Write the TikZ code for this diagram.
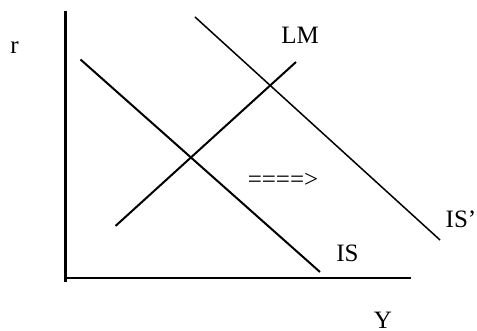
\documentclass[tikz,border=0pt]{standalone}
\usepackage{fontspec}
\setmainfont{Liberation Serif}
\usetikzlibrary{positioning, calc}

\begin{document}
\begin{tikzpicture}[
x=0.5pt, y=-0.5pt,
    axis/.style={draw, line width=1.1pt},
    curve/.style={draw, line width=1pt},
    shifted/.style={draw, line width=0.75pt},
    label/.style={inner sep=0pt, font=\fontsize{12.5}{15}\selectfont}
]
    \useasboundingbox (0,0) rectangle (477,331);

    % ================= AXES =================
    \coordinate (top) at (65.5, 11);
    \coordinate (origin) at (65.5, 282);
    \coordinate (xleft) at (65.5, 278.3);
    \coordinate (xright) at (411, 278.3);

    \draw[axis] (top) -- (origin);
    \draw[axis] (xleft) -- (xright);

    \node[label] (r) at (14.5, 48) {r};
    \node[label] (Y) at (383, 320) {Y};

    % ================= CURVES =================
    \coordinate (is_a) at (80.5, 59.5);
    \coordinate (is_b) at (320, 272);
    \coordinate (lm_a) at (115.5, 226);
    \coordinate (lm_b) at (296, 62);
    \coordinate (isp_a) at (195, 17);
    \coordinate (isp_b) at (440, 240);

    \draw[curve] (is_a) -- (is_b);
    \draw[curve] (lm_a) -- (lm_b);
    \draw[shifted] (isp_a) -- (isp_b);

    \node[label] (IS) at (347.5, 253.5) {IS};
    \node[label] (LM) at (300, 35.5) {LM};
    \node[label] (ISp) at (461, 219.5) {IS’};

    % ================= SHIFT =================
    \node[label] (shift) at (283, 180) {====>};

\end{tikzpicture}
\end{document}
